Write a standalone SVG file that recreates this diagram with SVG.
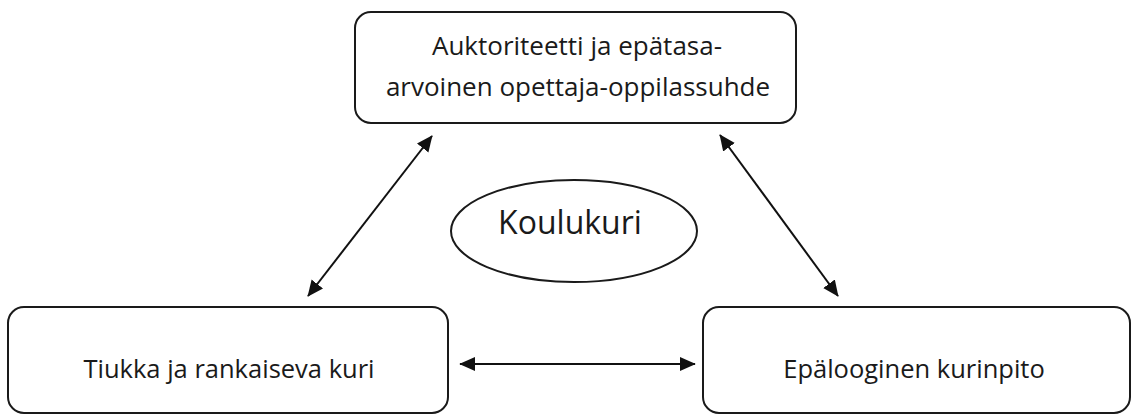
<svg xmlns="http://www.w3.org/2000/svg" width="1132" height="414" viewBox="0 0 1132 414">
<style>
.box{fill:#fff;stroke:#1a1a1a;stroke-width:2}
.t{font-family:"Open Sans","Noto Sans",sans-serif;fill:#1a1a1a;text-anchor:middle}
.c{stroke:#111;stroke-width:2;fill:none;marker-start:url(#ah);marker-end:url(#ah)}
</style>
<defs>
<marker id="ah" viewBox="0 0 10 10" refX="9.5" refY="5" markerWidth="8" markerHeight="8" markerUnits="strokeWidth" orient="auto-start-reverse">
<path d="M0,0.5 L10,5 L0,9.5 Z" fill="#111"/>
</marker>
</defs>
<rect width="1132" height="414" fill="#fff"/>
<g id="connectors">
<line class="c" x1="308" y1="296" x2="432" y2="136"/>
<line class="c" x1="720" y1="135" x2="838" y2="296"/>
<line class="c" x1="460" y1="364" x2="695" y2="364"/>
</g>
<g id="top">
<rect class="box" x="355" y="12" width="441" height="111" rx="16"/>
<text class="t" x="577" y="55" font-size="26">Auktoriteetti ja epätasa-</text>
<text class="t" x="578" y="96" font-size="26">arvoinen opettaja-oppilassuhde</text>
</g>
<g id="center">
<ellipse cx="574" cy="231" rx="123" ry="51" fill="#fff" stroke="#1a1a1a" stroke-width="2"/>
<text class="t" x="570" y="234" font-size="32">Koulukuri</text>
</g>
<g id="left">
<rect class="box" x="8" y="307" width="440" height="106" rx="16"/>
<text class="t" x="229" y="378" font-size="25.5">Tiukka ja rankaiseva kuri</text>
</g>
<g id="right">
<rect class="box" x="703" y="307" width="427" height="106" rx="16"/>
<text class="t" x="914" y="378" font-size="25.5">Epälooginen kurinpito</text>
</g>
</svg>
